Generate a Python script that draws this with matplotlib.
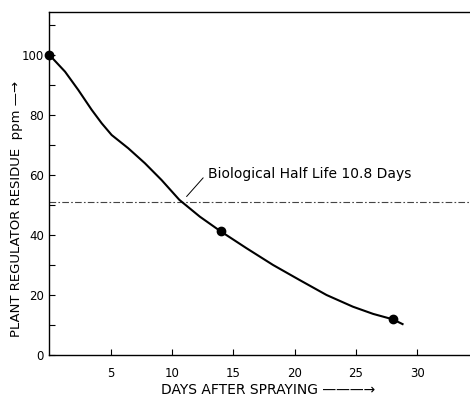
import matplotlib.pyplot as plt
from matplotlib.ticker import MultipleLocator

# curve (days, ppm)
curve_days = [0, 1.28, 2.36, 3.45, 4.27, 5.08, 6.43, 7.79, 9.15, 10.6,
              12.27, 13.9, 16.07, 18.24, 20.4, 22.6, 24.75, 26.4, 28.0, 28.8]
curve_ppm = [100, 94.4, 88.3, 81.7, 77.2, 73.3, 68.9, 63.9, 58.3, 51.7,
             46.1, 41.4, 35.6, 30.0, 25.0, 20.0, 16.1, 13.7, 11.9, 10.3]

# measured points
point_days = [0, 14, 28]
point_ppm = [100, 41.4, 11.9]

half_life_level = 51
half_life_text = 'Biological Half Life 10.8 Days'
x_ticks = [5, 10, 15, 20, 25, 30]
y_ticks = [0, 20, 40, 60, 80, 100]

fig = plt.figure(figsize=(4.7, 3.98), dpi=100)
ax = fig.add_axes([0.105, 0.108, 0.895, 0.862])

ax.plot(curve_days, curve_ppm, color='black', lw=1.5, zorder=3,
        solid_joinstyle='round')
ax.plot(point_days, point_ppm, 'o', color='black', markersize=6, zorder=4, clip_on=False)
ax.axhline(half_life_level, color='#444444', lw=0.8, ls=(0, (6, 2, 1.5, 2)))

ax.annotate(half_life_text, xy=(11.19, 52.8), xytext=(12.92, 60.3),
            fontsize=10, va='center', ha='left',
            arrowprops=dict(arrowstyle='-', color='black', lw=0.7,
                            shrinkA=2, shrinkB=0, relpos=(0, 0.6)))

ax.set_xlim(0, 34.3)
ax.set_ylim(0, 114.3)
ax.set_xticks(x_ticks)
ax.set_yticks(y_ticks)
ax.yaxis.set_minor_locator(MultipleLocator(10))
ax.tick_params(which='both', direction='in', length=4, width=0.8, labelsize=8.5)
ax.tick_params(axis='x', pad=8.5)
ax.tick_params(axis='y', pad=4)
ax.spines['right'].set_visible(False)
for s in ['left', 'bottom', 'top']:
    ax.spines[s].set_linewidth(1.0)

ax.set_xlabel('DAYS AFTER SPRAYING ———→', fontsize=10)
ax.xaxis.label.set_va('center')
ax.xaxis.set_label_coords(0.519, -0.103)
ax.set_ylabel('PLANT REGULATOR RESIDUE  ppm —→', fontsize=9.5)
ax.yaxis.label.set_va('center')
ax.yaxis.set_label_coords(-0.078, 0.427)

fig.savefig('out.png', dpi=100)
